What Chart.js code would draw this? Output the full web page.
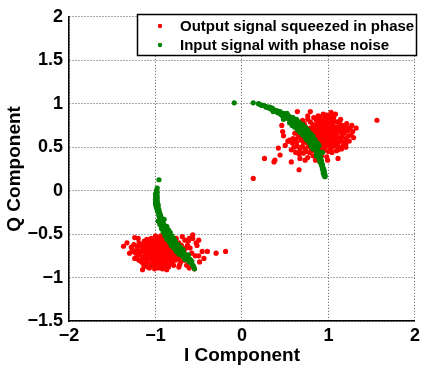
<!DOCTYPE html>
<html>
<head>
<meta charset="utf-8">
<script src="https://cdn.jsdelivr.net/npm/chart.js@4.4.1/dist/chart.umd.min.js"></script>
<style>
  html, body { margin: 0; padding: 0; background: #fff; }
  #iq { display: block; }
</style>
</head>
<body>
<canvas id="iq" width="424" height="367"></canvas>
<script>
// legend labels and axis titles
const seriesNames = ["Output signal squeezed in phase", "Input signal with phase noise"];
const xTitle = "I Component";
const yTitle = "Q Component";
const xTicks = [-2, -1, 0, 1, 2];
const yTicks = [-1.5, -1, -0.5, 0, 0.5, 1, 1.5, 2];

// output (red) points, [I, Q]
const outputUpper = [
  [0.95,0.65],[0.92,0.68],[0.98,0.62],[1.01,0.66],[0.89,0.63],[0.94,0.71],[0.97,0.58],[1.04,0.69],[0.87,0.70],[0.91,0.60],
  [1.00,0.72],[0.93,0.55],[1.06,0.63],[0.85,0.66],[0.99,0.68],[0.96,0.74],[1.08,0.70],[0.88,0.57],[1.02,0.59],[0.90,0.75],
  [0.84,0.61],[1.10,0.66],[0.97,0.52],[1.05,0.75],[0.82,0.68],[0.93,0.78],[1.12,0.61],[0.86,0.53],[1.03,0.55],[0.80,0.64],
  [0.95,0.80],[1.14,0.68],[0.91,0.50],[1.07,0.57],[0.83,0.73],[1.00,0.78],[0.78,0.60],[1.09,0.73],[0.88,0.79],[0.96,0.48],
  [1.16,0.64],[0.81,0.56],[1.04,0.80],[0.76,0.67],[1.11,0.55],[0.99,0.83],[0.86,0.49],[1.13,0.76],[0.79,0.72],[1.01,0.51],
  [0.92,0.63],[0.97,0.69],[1.03,0.64],[0.89,0.68],[0.94,0.59],[1.06,0.67],[0.98,0.75],[0.87,0.62],[1.01,0.61],[0.93,0.73],
  [1.08,0.62],[0.84,0.71],[0.96,0.56],[1.05,0.72],[0.90,0.54],[1.15,0.71],[0.77,0.63],[1.02,0.84],[0.85,0.58],[1.18,0.66],
  [0.74,0.58],[1.10,0.79],[0.82,0.76],[1.07,0.52],[0.94,0.45],[1.20,0.60],[0.80,0.52],[0.98,0.87],[1.12,0.50],[0.75,0.71],
  [0.91,0.82],[1.17,0.73],[0.72,0.62],[1.06,0.84],[0.87,0.45],[1.14,0.57],[0.79,0.79],[1.00,0.45],[0.70,0.66],[1.22,0.69],
  [0.90,0.66],[0.96,0.62],[1.02,0.70],[0.88,0.72],[0.94,0.52],[1.05,0.60],[0.99,0.57],[0.86,0.59],[1.09,0.68],[0.92,0.58],
  [0.97,0.77],[1.03,0.77],[0.83,0.64],[1.12,0.72],[0.89,0.51],[1.07,0.66],[0.81,0.70],[1.15,0.61],[0.95,0.70],[1.00,0.54],
  [0.91,0.71],[0.85,0.75],[1.11,0.59],[0.78,0.66],[1.18,0.70],[0.93,0.48],[1.04,0.50],[0.75,0.55],[0.80,0.48],[1.13,0.80],
  [1.16,0.75],[1.19,0.56],[1.23,0.63],[0.96,0.84],[0.90,0.85],[0.73,0.74],[0.71,0.56],[0.64,0.51],[0.69,0.62],[0.77,0.51],
  [0.83,0.46],[0.92,0.44],[1.02,0.47],[1.29,0.61],[1.27,0.75],[1.06,0.80],[0.86,0.81],[0.62,0.59],[0.66,0.67],[0.74,0.45],
  [0.68,0.58],[0.65,0.62],[0.63,0.55],[0.70,0.51],[0.67,0.47],[0.60,0.50],[0.73,0.48],[0.66,0.42],[0.71,0.43],[0.62,0.44],
  [0.58,0.55],[0.55,0.58],[0.61,0.66],[0.57,0.47],[0.69,0.74],[0.64,0.70],[0.72,0.77],[0.76,0.82],[0.83,0.84],[0.70,0.81],
  [0.78,0.44],[0.82,0.40],[0.76,0.38],[0.88,0.38],[0.73,0.35],[0.67,0.37],[0.85,0.35],[0.92,0.40],[0.98,0.39],[1.04,0.44],
  [1.09,0.46],[1.15,0.48],[1.20,0.53],[1.24,0.57],[1.26,0.64],[1.25,0.72],[1.21,0.77],[1.28,0.68],[1.32,0.72],[1.20,0.74],
  [1.14,0.82],[1.08,0.88],[0.94,0.88],[0.88,0.86],[1.03,0.90],[0.79,0.91],[0.64,0.91],[0.76,0.86],[0.53,0.57],[0.59,0.60],
  [1.56,0.81],[0.13,0.14],[0.26,0.37],[0.37,0.33],[0.38,0.35],[0.44,0.41],[0.46,0.75],[0.47,0.68],[0.54,0.57],[0.57,0.33],
  [0.66,0.24],[1.03,0.85],[1.17,0.52],[1.11,0.47],[0.99,0.35],[0.50,0.52],[0.48,0.63],[0.42,0.49],[1.11,0.37],[1.20,0.50]
];
const outputLower = [
  [-0.93,-0.70],[-0.96,-0.67],[-0.90,-0.73],[-0.99,-0.72],[-0.87,-0.68],[-0.95,-0.76],[-1.02,-0.66],[-0.84,-0.72],[-0.91,-0.64],[-1.05,-0.70],
  [-0.98,-0.62],[-0.88,-0.77],[-1.01,-0.78],[-0.82,-0.66],[-1.08,-0.74],[-0.94,-0.60],[-0.86,-0.63],[-1.04,-0.63],[-0.92,-0.80],[-1.10,-0.68],
  [-0.80,-0.74],[-0.97,-0.82],[-1.06,-0.79],[-0.89,-0.59],[-1.12,-0.72],[-0.85,-0.80],[-1.00,-0.59],[-0.78,-0.69],[-1.14,-0.66],[-0.94,-0.84],
  [-1.03,-0.83],[-0.83,-0.60],[-1.09,-0.62],[-0.76,-0.76],[-0.91,-0.57],[-1.15,-0.77],[-0.99,-0.86],[-0.81,-0.82],[-1.07,-0.58],[-0.74,-0.72],
  [-0.95,-0.65],[-0.92,-0.75],[-0.97,-0.74],[-0.89,-0.70],[-1.01,-0.69],[-0.86,-0.74],[-0.94,-0.68],[-1.04,-0.75],[-0.98,-0.78],[-0.88,-0.66],
  [-1.06,-0.67],[-0.90,-0.81],[-1.00,-0.64],[-0.84,-0.77],[-1.11,-0.80],[-0.96,-0.58],[-1.13,-0.61],[-0.79,-0.63],[-1.17,-0.70],[-0.87,-0.85],
  [-1.02,-0.73],[-0.93,-0.87],[-1.08,-0.85],[-0.77,-0.80],[-1.18,-0.64],[-0.82,-0.56],[-1.05,-0.55],[-0.72,-0.77],[-1.16,-0.82],[-0.98,-0.55],
  [-0.75,-0.65],[-1.20,-0.74],[-0.90,-0.54],[-0.71,-0.82],[-1.10,-0.56],[-0.85,-0.88],[-1.21,-0.68],[-0.96,-0.89],[-0.73,-0.60],[-1.13,-0.87],
  [-0.70,-0.70],[-1.19,-0.60],[-0.88,-0.62],[-1.03,-0.80],[-0.79,-0.86],[-1.22,-0.78],[-0.68,-0.75],[-1.07,-0.89],[-0.94,-0.52],[-0.66,-0.80],
  [-0.95,-0.72],[-0.91,-0.68],[-1.00,-0.74],[-0.86,-0.70],[-1.04,-0.67],[-0.97,-0.64],[-0.89,-0.75],[-1.07,-0.71],[-0.83,-0.68],[-1.12,-0.75],
  [-0.99,-0.80],[-0.92,-0.61],[-1.09,-0.65],[-0.81,-0.78],[-1.15,-0.69],[-0.94,-0.78],[-1.02,-0.61],[-0.87,-0.82],[-1.18,-0.73],[-0.78,-0.72],
  [-1.05,-0.85],[-0.90,-0.86],[-1.14,-0.84],[-0.96,-0.55],[-1.08,-0.59],[-0.85,-0.57],[-1.21,-0.64],[-0.74,-0.78],[-1.11,-0.77],[-0.99,-0.69],
  [-0.93,-0.65],[-1.06,-0.76],[-0.88,-0.73],[-1.16,-0.62],[-0.80,-0.60],[-1.23,-0.72],[-1.01,-0.87],[-0.76,-0.68],[-1.13,-0.58],[-0.92,-0.90],
  [-1.19,-0.80],[-0.83,-0.84],[-0.70,-0.63],[-0.67,-0.70],[-1.27,-0.67],[-1.10,-0.83],[-0.97,-0.60],[-0.72,-0.85],[-1.03,-0.57],[-0.65,-0.66],
  [-1.37,-0.64],[-1.28,-0.65],[-1.30,-0.72],[-1.24,-0.78],[-1.24,-0.54],[-1.20,-0.55],[-0.46,-0.70],[-0.40,-0.70],[-0.30,-0.72],[-0.19,-0.70],
  [-0.44,-0.78],[-0.55,-0.90],[-0.57,-0.51],[-0.57,-0.55],[-0.62,-0.58],[-0.60,-0.66],[-0.64,-0.86],[-0.61,-0.89],[-0.52,-0.63],[-0.50,-0.57],
  [-0.54,-0.75],[-0.58,-0.72],[-0.63,-0.63],[-0.66,-0.57],[-0.69,-0.53],[-0.76,-0.55],[-0.84,-0.52],[-1.00,-0.52],[-1.26,-0.70],[-1.25,-0.62],
  [-1.15,-0.91],[-1.01,-0.90],[-0.87,-0.91],[-0.73,-0.88],[-1.33,-0.60],[-0.49,-0.82],[-1.09,-0.88],[-0.53,-0.60],[-0.50,-0.75],[-0.61,-0.55]
];

// input (green) points, [I, Q]
const inputUpper = [
  [-0.09,1.01],[0.13,1.01],[0.19,1.00],[0.21,0.99],[0.23,0.98],[0.25,0.98],[0.27,0.97],[0.28,0.96],[0.30,0.96],[0.31,0.95],[0.32,0.96],[0.34,0.94],[0.35,0.95],
  [0.34,0.94],[0.35,0.93],[0.33,0.95],[0.37,0.93],[0.38,0.92],[0.36,0.91],[0.40,0.92],[0.41,0.90],[0.42,0.91],
  [0.44,0.90],[0.43,0.89],[0.45,0.88],[0.44,0.91],[0.47,0.88],[0.46,0.87],[0.48,0.89],[0.47,0.86],
  [0.50,0.87],[0.49,0.86],[0.51,0.85],[0.50,0.88],[0.53,0.85],[0.52,0.84],[0.54,0.84],[0.53,0.83],[0.54,0.86],
  [0.56,0.83],[0.55,0.82],[0.57,0.82],[0.56,0.81],[0.57,0.84],[0.59,0.81],[0.58,0.80],[0.60,0.80],[0.59,0.79],[0.60,0.82],
  [0.62,0.79],[0.61,0.78],[0.63,0.77],[0.61,0.76],[0.62,0.80],[0.64,0.77],[0.63,0.76],[0.65,0.75],[0.64,0.74],[0.66,0.77],
  [0.67,0.74],[0.66,0.73],[0.68,0.72],[0.67,0.71],[0.68,0.75],[0.69,0.72],[0.68,0.70],[0.70,0.70],[0.71,0.72],[0.69,0.69],
  [0.72,0.69],[0.71,0.68],[0.73,0.68],[0.72,0.66],[0.73,0.70],[0.74,0.67],[0.73,0.65],[0.75,0.65],[0.74,0.64],[0.76,0.67],
  [0.76,0.64],[0.75,0.62],[0.77,0.62],[0.78,0.64],[0.76,0.61],[0.78,0.61],[0.77,0.60],[0.79,0.59],[0.80,0.61],[0.78,0.58],
  [0.80,0.58],[0.79,0.57],[0.81,0.56],[0.82,0.58],[0.80,0.55],[0.82,0.55],[0.81,0.54],[0.83,0.53],[0.84,0.55],[0.82,0.52],
  [0.84,0.52],[0.83,0.51],[0.85,0.50],[0.86,0.52],[0.84,0.49],[0.86,0.49],[0.85,0.48],[0.87,0.47],[0.86,0.46],[0.87,0.50],
  [0.87,0.45],[0.88,0.46],[0.86,0.44],[0.89,0.44],[0.88,0.43],[0.88,0.42],[0.89,0.41],[0.90,0.42],[0.88,0.40],[0.90,0.39],
  [0.90,0.38],[0.89,0.37],[0.91,0.37],[0.90,0.36],[0.91,0.35],[0.92,0.34],[0.90,0.33],[0.91,0.32],
  [0.92,0.31],[0.93,0.30],[0.92,0.29],[0.93,0.28],[0.93,0.27],[0.94,0.26],[0.93,0.25],
  [0.94,0.24],[0.95,0.23],[0.94,0.22],[0.95,0.21],[0.94,0.20],[0.95,0.19],[0.96,0.18],[0.95,0.17],[0.96,0.16],
  [0.93,0.44],[0.89,0.52],[0.87,0.55],[0.84,0.59],[0.82,0.63],[0.79,0.66],[0.76,0.70],[0.73,0.73],[0.70,0.76],[0.66,0.79],
  [0.63,0.82],[0.59,0.84],[0.52,0.89],[0.86,0.40],[0.82,0.48],[0.80,0.51],[0.78,0.55],[0.75,0.58],[0.73,0.61],[0.70,0.64],
  [0.67,0.67],[0.64,0.70],[0.61,0.73],[0.58,0.75],[0.55,0.78],[0.48,0.82]
];
const inputLower = [
  [-0.96,0.125],[-0.98,0.03],[-0.99,0.00],[-0.98,-0.02],[-1.00,-0.04],
  [-0.99,-0.05],[-0.98,-0.06],[-1.00,-0.07],[-0.99,-0.08],[-0.98,-0.09],[-1.00,-0.10],[-0.99,-0.11],[-0.98,-0.12],[-1.00,-0.13],
  [-0.98,-0.14],[-0.99,-0.15],[-0.97,-0.16],[-1.00,-0.16],[-0.98,-0.17],[-0.97,-0.18],[-0.99,-0.19],[-0.98,-0.20],
  [-0.97,-0.21],[-0.98,-0.22],[-0.96,-0.22],[-0.97,-0.24],[-0.96,-0.24],[-0.97,-0.25],[-0.95,-0.26],[-0.96,-0.27],
  [-0.95,-0.28],[-0.96,-0.29],[-0.94,-0.29],[-0.95,-0.30],[-0.94,-0.31],[-0.95,-0.32],[-0.93,-0.32],[-0.94,-0.33],
  [-0.93,-0.34],[-0.94,-0.35],[-0.92,-0.35],[-0.93,-0.37],[-0.95,-0.36],[-0.92,-0.38],[-0.91,-0.37],[-0.93,-0.39],[-0.91,-0.39],[-0.94,-0.38],
  [-0.91,-0.41],[-0.90,-0.40],[-0.92,-0.42],[-0.89,-0.42],[-0.93,-0.41],[-0.90,-0.44],[-0.88,-0.43],[-0.91,-0.45],[-0.89,-0.46],[-0.87,-0.45],
  [-0.88,-0.47],[-0.87,-0.46],[-0.89,-0.48],[-0.86,-0.48],[-0.90,-0.47],[-0.87,-0.50],[-0.85,-0.49],[-0.88,-0.51],[-0.86,-0.52],[-0.84,-0.51],
  [-0.85,-0.53],[-0.83,-0.52],[-0.86,-0.54],[-0.84,-0.55],[-0.82,-0.54],[-0.83,-0.56],[-0.81,-0.55],[-0.84,-0.57],[-0.82,-0.58],[-0.80,-0.57],
  [-0.81,-0.59],[-0.79,-0.58],[-0.82,-0.60],[-0.80,-0.61],[-0.78,-0.60],[-0.79,-0.62],[-0.77,-0.61],[-0.80,-0.63],[-0.78,-0.64],[-0.76,-0.63],
  [-0.77,-0.64],[-0.75,-0.64],[-0.78,-0.66],[-0.76,-0.67],[-0.74,-0.66],[-0.74,-0.67],[-0.73,-0.66],[-0.75,-0.69],[-0.73,-0.69],[-0.71,-0.68],
  [-0.72,-0.70],[-0.70,-0.69],[-0.73,-0.71],[-0.71,-0.72],[-0.69,-0.71],[-0.69,-0.72],[-0.68,-0.71],[-0.70,-0.74],[-0.68,-0.74],[-0.67,-0.73],
  [-0.67,-0.75],[-0.65,-0.74],[-0.68,-0.76],[-0.66,-0.77],[-0.64,-0.77],[-0.63,-0.76],[-0.65,-0.79],[-0.63,-0.79],
  [-0.62,-0.80],[-0.60,-0.79],[-0.61,-0.82],[-0.59,-0.82],[-0.58,-0.81],[-0.58,-0.84],[-0.57,-0.86],[-0.56,-0.87],[-0.55,-0.90],
  [-0.97,-0.35],[-0.93,-0.44],[-0.89,-0.52],[-0.84,-0.59],[-0.79,-0.66],[-0.73,-0.73],[-0.66,-0.79],[-0.95,-0.39],[-0.91,-0.48],
  [-0.87,-0.56],[-0.82,-0.63],[-0.76,-0.70],[-0.90,-0.33],[-0.87,-0.41],[-0.83,-0.48],[-0.79,-0.55],[-0.74,-0.62],[-0.68,-0.68],
  [-0.62,-0.74],[-0.85,-0.45],[-0.81,-0.52],[-0.77,-0.58],[-0.71,-0.65]
];

const toXY = (pairs) => pairs.map((p) => ({ x: p[0], y: p[1] }));
const fmt = (v) => String(v).replace("-", "\u2212");
const fontFamily = "'Liberation Sans', Arial, Helvetica, sans-serif";
const red = "#ff0000";
const green = "#008000";

// MATLAB-style legend box drawn inside the axes
const legendBox = {
  id: "legendBox",
  afterDatasetsDraw(chart) {
    const ctx = chart.ctx;
    ctx.save();
    ctx.fillStyle = "#fff";
    ctx.fillRect(137.5, 14.5, 279, 41);
    ctx.strokeStyle = "#000";
    ctx.lineWidth = 1.5;
    ctx.strokeRect(137.5, 14.5, 279, 41);
    const rows = [[red, 26], [green, 45]];
    ctx.font = "bold 15px " + fontFamily;
    ctx.textBaseline = "middle";
    rows.forEach((r, i) => {
      ctx.fillStyle = r[0];
      ctx.beginPath();
      ctx.arc(160, r[1], 2.2, 0, Math.PI * 2);
      ctx.fill();
      ctx.fillStyle = "#000";
      ctx.fillText(seriesNames[i], 180, r[1] + 1);
    });
    ctx.restore();
  }
};

new Chart(document.getElementById("iq"), {
  type: "scatter",
  data: {
    datasets: [
      { label: seriesNames[1], data: toXY(inputUpper.concat(inputLower)), backgroundColor: green, pointRadius: 2.6, borderWidth: 0 },
      { label: seriesNames[0], data: toXY(outputUpper.concat(outputLower)), backgroundColor: red, pointRadius: 2.6, borderWidth: 0 }
    ]
  },
  options: {
    responsive: false,
    animation: false,
    events: [],
    layout: { padding: { top: 14, right: 6, left: 3, bottom: 0 } },
    plugins: { legend: { display: false }, tooltip: { enabled: false } },
    scales: {
      x: {
        type: "linear",
        min: xTicks[0],
        max: xTicks[xTicks.length - 1],
        afterBuildTicks: (s) => { s.ticks = xTicks.map((v) => ({ value: v })); },
        afterFit: (s) => { s.height = 46; },
        ticks: { color: "#000", padding: 4, maxRotation: 0, font: { family: fontFamily, size: 18, weight: "bold" }, callback: fmt },
        grid: { color: "#555", lineWidth: 1, drawTicks: false },
        border: { display: true, color: "#000", width: 1.5, dash: [1, 2] },
        title: { display: true, text: xTitle, color: "#000", font: { family: fontFamily, size: 19, weight: "bold" }, padding: 0 }
      },
      y: {
        type: "linear",
        min: yTicks[0],
        max: yTicks[yTicks.length - 1],
        afterBuildTicks: (s) => { s.ticks = yTicks.map((v) => ({ value: v })); },
        afterFit: (s) => { s.width = 66; },
        ticks: { color: "#000", padding: 6, font: { family: fontFamily, size: 18, weight: "bold" }, callback: fmt },
        grid: { color: "#555", lineWidth: 1, drawTicks: false },
        border: { display: true, color: "#000", width: 1.5, dash: [1, 2] },
        title: { display: true, text: yTitle, color: "#000", font: { family: fontFamily, size: 19, weight: "bold" }, padding: 0 }
      }
    }
  },
  plugins: [legendBox]
});
</script>
</body>
</html>
